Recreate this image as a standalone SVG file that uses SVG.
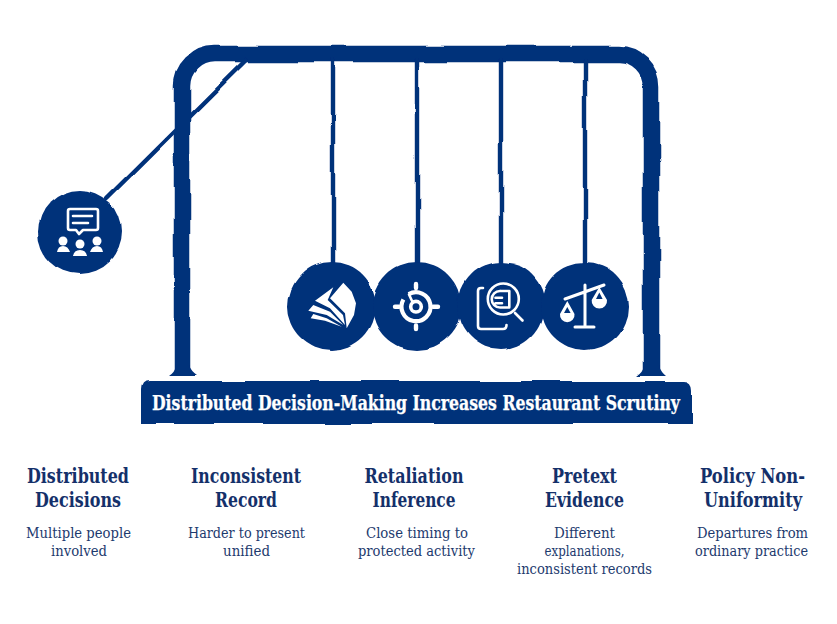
<svg xmlns="http://www.w3.org/2000/svg" width="837" height="624" viewBox="0 0 837 624">
<style>
.h{font:700 20.5px "DejaVu Serif","Liberation Serif",serif;font-stretch:condensed;fill:#14306a;text-anchor:middle}
.b{font:400 15px "DejaVu Serif","Liberation Serif",serif;font-stretch:condensed;fill:#1d3a6e;text-anchor:middle}
.t{font:700 19.5px "DejaVu Serif","Liberation Serif",serif;font-stretch:condensed;fill:#fff;stroke:#fff;stroke-width:.25;text-anchor:middle}
.n{fill:#00307a}
.w{fill:none;stroke:#fff;stroke-width:2.6;stroke-linecap:round;stroke-linejoin:round}
.f{fill:#fff}
.s{fill:none;stroke:#00307a;stroke-width:4.4;stroke-linecap:round}
</style>
<defs>
<filter id="r" filterUnits="userSpaceOnUse" x="0" y="0" width="837" height="624">
<feTurbulence type="fractalNoise" baseFrequency="0.022" numOctaves="1" seed="4"/>
<feDisplacementMap in="SourceGraphic" scale="6" xChannelSelector="R" yChannelSelector="G"/>
</filter>
</defs>
<g id="connectors" filter="url(#r)">
<path d="M182 372V86A32 32 0 0 1 214 54H619A32 32 0 0 1 651 86V372" fill="none" stroke="#00307a" stroke-width="16.500"/>
<path d="M168 376Q174 372 175 366H189Q191 372 197 376Z" class="n"/>
<path d="M637 376Q643 372 644 366H658Q660 372 665 376Z" class="n"/>
<path class="s" d="M246 60L107 198"/>
<path class="s" d="M333 60V265M417 60V265M501 60V265M585 60V265"/>
</g>
<g id="node-1">
<circle class="n" cx="80" cy="232" r="42" filter="url(#r)"/>
<path class="w" d="M70 209H96Q98 209 98 211V228Q98 230 96 230H83L79 234L76 230H70Q68 230 68 228V211Q68 209 70 209Z"/>
<path class="w" d="M73 216H92M73 223H88"/>
<circle class="f" cx="63" cy="241" r="4.5"/><circle class="f" cx="80" cy="244" r="4.5"/><circle class="f" cx="97" cy="241" r="4.5"/>
<path class="f" d="M57 252Q58 246 63 246Q68 246 70 252ZM73 256Q74 250 80 250Q86 250 87 256ZM90 252Q92 246 97 246Q102 246 103 252Z"/>
</g>
<g id="node-2">
<circle class="n" cx="332" cy="306" r="44" filter="url(#r)"/>
<path class="f" d="M343.300 282.700L351.700 291.700L356 303.300L354 315L346.700 328.300L345 313.300L330 298.300Z"/>
<path class="f" d="M333.300 287.300L315 300.700L330 308.300L345 325L343 315L327.700 300Z"/>
<path class="f" d="M308.300 310.700L313.300 305L330 311.700L343.300 325L326.700 315Z"/>
<path class="f" d="M310.700 318.300L313.300 314L326.700 318.300L341.700 326.700L325 320.700Z"/>
</g>
<g id="node-3">
<circle class="n" cx="417" cy="306" r="44" filter="url(#r)"/>
<path class="w" style="stroke-width:4.200;stroke-linecap:butt" d="M408.750 294.100A14.500 14.500 0 1 1 403.400 299.450"/>
<path class="w" style="stroke-width:4.400" d="M416 284V288M416 325.500V329M395 306.700H399M433 306.700H438"/>
<circle class="w" cx="416" cy="306.700" r="5.300" style="stroke-width:3.600"/>
<path class="w" d="M409 294.500L412.500 302" style="stroke-width:2.600"/>
</g>
<g id="node-4">
<circle class="n" cx="501" cy="306" r="44" filter="url(#r)"/>
<path class="w" d="M483 288H481Q478 288 478 291V326Q478 329 481 329H503Q506.500 329 506.500 325"/>
<circle class="w" cx="503.300" cy="299" r="15.500"/>
<path class="w" d="M515 313L522.500 320.500"/>
<path class="w" d="M500.500 291H509.300V307M509.300 307.500H500A8.200 8.200 0 0 1 500 291M495.500 297.700H502M495.500 303.300H502"/>
</g>
<g id="node-5">
<circle class="n" cx="585" cy="306" r="44" filter="url(#r)"/>
<path class="w" d="M585 285V327M575 327H594M565 299L604 285" style="stroke-width:3"/>
<path class="f" fill-rule="evenodd" d="M567.300 301L574.500 314A7.300 7.300 0 1 1 560 314ZM567.300 307L564 313H570.600Z"/>
<path class="f" fill-rule="evenodd" d="M599.300 287L607 300A7.700 7.700 0 1 1 591.700 300ZM599.300 292.500L596 299H602.600Z"/>
</g>
<g id="banner">
<path class="n" filter="url(#r)" d="M149 381H684Q692 381 692 390V424H141V390Q141 381 149 381Z"/>
<text class="t" x="416" y="410" textLength="528" lengthAdjust="spacingAndGlyphs">Distributed Decision-Making Increases Restaurant Scrutiny</text>
</g>
<g id="label-1">
<text class="h" x="78" y="483" textLength="102" lengthAdjust="spacingAndGlyphs">Distributed</text>
<text class="h" x="78" y="507" textLength="86" lengthAdjust="spacingAndGlyphs">Decisions</text>
<text class="b" x="78.500" y="538" textLength="105" lengthAdjust="spacingAndGlyphs">Multiple people</text>
<text class="b" x="79" y="556" textLength="56" lengthAdjust="spacingAndGlyphs">involved</text>
</g>
<g id="label-2">
<text class="h" x="246" y="483" textLength="110" lengthAdjust="spacingAndGlyphs">Inconsistent</text>
<text class="h" x="246" y="507" textLength="62" lengthAdjust="spacingAndGlyphs">Record</text>
<text class="b" x="246.500" y="538" textLength="117" lengthAdjust="spacingAndGlyphs">Harder to present</text>
<text class="b" x="246.500" y="556" textLength="47" lengthAdjust="spacingAndGlyphs">unified</text>
</g>
<g id="label-3">
<text class="h" x="414" y="483" textLength="99" lengthAdjust="spacingAndGlyphs">Retaliation</text>
<text class="h" x="414" y="507" textLength="83" lengthAdjust="spacingAndGlyphs">Inference</text>
<text class="b" x="417" y="538" textLength="102" lengthAdjust="spacingAndGlyphs">Close timing to</text>
<text class="b" x="416.500" y="556" textLength="117" lengthAdjust="spacingAndGlyphs">protected activity</text>
</g>
<g id="label-4">
<text class="h" x="584.500" y="483" textLength="65" lengthAdjust="spacingAndGlyphs">Pretext</text>
<text class="h" x="584.500" y="507" textLength="79" lengthAdjust="spacingAndGlyphs">Evidence</text>
<text class="b" x="584.500" y="538" textLength="61" lengthAdjust="spacingAndGlyphs">Different</text>
<text class="b" x="584.500" y="556" textLength="80" lengthAdjust="spacingAndGlyphs">explanations,</text>
<text class="b" x="584.500" y="574" textLength="135" lengthAdjust="spacingAndGlyphs">inconsistent records</text>
</g>
<g id="label-5">
<text class="h" x="752.500" y="483" textLength="105" lengthAdjust="spacingAndGlyphs">Policy Non-</text>
<text class="h" x="753" y="507" textLength="98" lengthAdjust="spacingAndGlyphs">Uniformity</text>
<text class="b" x="752.500" y="538" textLength="111" lengthAdjust="spacingAndGlyphs">Departures from</text>
<text class="b" x="751.500" y="556" textLength="113" lengthAdjust="spacingAndGlyphs">ordinary practice</text>
</g>
</svg>
